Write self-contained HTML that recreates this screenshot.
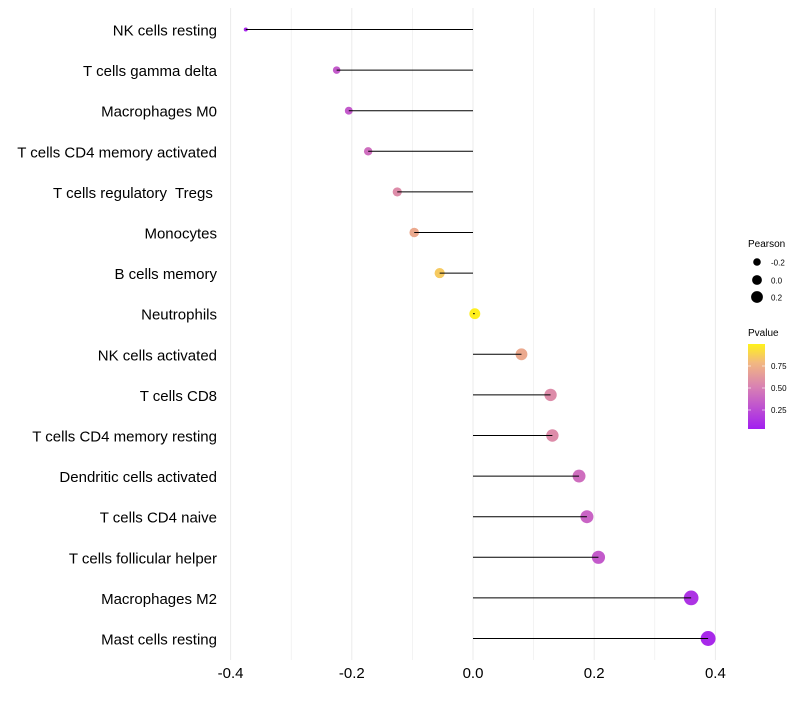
<!DOCTYPE html>
<html><head><meta charset="utf-8"><style>
body{margin:0;background:#fff;font-family:"Liberation Sans",sans-serif;}
svg text{font-family:"Liberation Sans",sans-serif;white-space:pre;}
</style></head><body>
<svg id="c" width="800" height="700" xmlns="http://www.w3.org/2000/svg">
<defs><linearGradient id="pg" x1="0" y1="1" x2="0" y2="0">
<stop offset="0" stop-color="#a21ff0"/><stop offset="0.5" stop-color="#d982b2"/><stop offset="0.78" stop-color="#f2b880"/><stop offset="1" stop-color="#fff21a"/></linearGradient></defs>
<g id="grid"></g><g id="marks"></g><g id="labels"></g>
<g>
<text x="748" y="247" font-size="10">Pearson</text>
<circle cx="757" cy="262" r="3.8" fill="#000"/>
<text x="771" y="265.5" font-size="8">-0.2</text>
<circle cx="757" cy="280" r="4.9" fill="#000"/>
<text x="771" y="283.5" font-size="8">0.0</text>
<circle cx="757" cy="297" r="5.9" fill="#000"/>
<text x="771" y="300.5" font-size="8">0.2</text>
<text x="748" y="336" font-size="10">Pvalue</text>
<rect x="748" y="344" width="17" height="85" fill="url(#pg)"/>
<g stroke="#fff" stroke-opacity="0.6"><line x1="748" x2="751" y1="366" y2="366"/><line x1="762" x2="765" y1="366" y2="366"/><line x1="748" x2="751" y1="388" y2="388"/><line x1="762" x2="765" y1="388" y2="388"/><line x1="748" x2="751" y1="410" y2="410"/><line x1="762" x2="765" y1="410" y2="410"/></g>
<text x="771" y="369" font-size="8">0.75</text>
<text x="771" y="391" font-size="8">0.50</text>
<text x="771" y="413" font-size="8">0.25</text>
</g>
</svg>
<script>
const categories=["NK cells resting","T cells gamma delta","Macrophages M0","T cells CD4 memory activated","T cells regulatory  Tregs ","Monocytes","B cells memory","Neutrophils","NK cells activated","T cells CD8","T cells CD4 memory resting","Dendritic cells activated","T cells CD4 naive","T cells follicular helper","Macrophages M2","Mast cells resting"];
const pearson=[-0.375,-0.225,-0.205,-0.173,-0.125,-0.097,-0.055,0.003,0.08,0.128,0.131,0.175,0.188,0.207,0.36,0.388];
const pvalue=[0.05,0.3,0.3,0.4,0.55,0.7,0.85,0.99,0.7,0.55,0.55,0.4,0.35,0.3,0.1,0.05];
const xTicks=[-0.4,-0.2,0,0.2,0.4];
const xTickLabels=["-0.4","-0.2","0.0","0.2","0.4"];
const NS="http://www.w3.org/2000/svg";
function xs(v){return 473+v*606;}
function ys(i){return 29.5+i*40.6;}
function rs(v){const t=(v+0.375)/0.765;return Math.sqrt(4+52*Math.max(0,t));}
const stops=[[0,[162,31,240]],[0.5,[217,130,178]],[0.78,[242,184,128]],[1,[255,242,26]]];
function col(p){for(let i=1;i<stops.length;i++){if(p<=stops[i][0]){const a=stops[i-1],b=stops[i],t=(p-a[0])/(b[0]-a[0]);return "rgb("+a[1].map((c,k)=>Math.round(c+(b[1][k]-c)*t)).join(",")+")";}}return "rgb(255,242,26)";}
function mk(tag,at,parent){const e=document.createElementNS(NS,tag);for(const k in at)e.setAttribute(k,at[k]);parent.appendChild(e);return e;}
const grid=document.getElementById('grid'),marks=document.getElementById('marks'),labels=document.getElementById('labels');
for(let v=-0.4;v<=0.4001;v+=0.1){const g=mk('line',{x1:xs(v),x2:xs(v),y1:8,y2:660,stroke:'#ebebeb','stroke-width':Math.abs(Math.round(v*10))%2===0?1:0.6},grid);

}
xTicks.forEach((v,i)=>{const t=mk('text',{x:xs(v),y:678,'font-size':15,'text-anchor':'middle',fill:'#000'},labels);t.textContent=xTickLabels[i];

});
categories.forEach((c,i)=>{const y=ys(i);
const t=mk('text',{x:217,y:y+6,'font-size':15,'text-anchor':'end',fill:'#000'},labels);t.textContent=c;


const p=mk('circle',{cx:xs(pearson[i]),cy:y,r:rs(pearson[i]),fill:col(pvalue[i])},marks);


const l=mk('line',{x1:xs(0),x2:xs(pearson[i]),y1:y,y2:y,stroke:'#000','stroke-width':1},marks);

});
</script>
</body></html>
